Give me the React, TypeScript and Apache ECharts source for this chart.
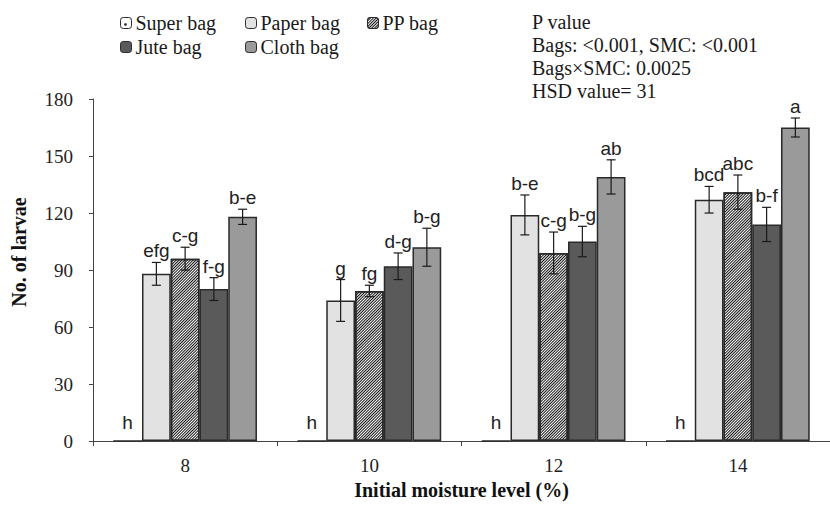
import React, { useEffect, useRef } from 'react';
import * as echarts from 'echarts';

const categories = ['8', '10', '12', '14'];
const bagNames = ['Super bag', 'Paper bag', 'PP bag', 'Jute bag', 'Cloth bag'];

const superBag = [0, 0, 0, 0];
const paperBag = [88, 74, 119, 127];
const ppBag = [96, 79, 99, 131];
const juteBag = [80, 92, 105, 114];
const clothBag = [118, 102, 139, 165];

const superErr = [0, 0, 0, 0];
const paperErr = [6, 11, 10.5, 7];
const ppErr = [6, 3, 11, 9];
const juteErr = [6, 7, 8, 9];
const clothErr = [4, 10, 9, 5];

const superLetters = ['h', 'h', 'h', 'h'];
const paperLetters = ['efg', 'g', 'b-e', 'bcd'];
const ppLetters = ['c-g', 'fg', 'c-g', 'abc'];
const juteLetters = ['f-g', 'd-g', 'b-g', 'b-f'];
const clothLetters = ['b-e', 'b-g', 'ab', 'a'];

const yMin = 0;
const yMax = 180;
const yInterval = 30;

const pValueLines = [
  'P value',
  'Bags: <0.001, SMC: <0.001',
  'Bags\u00d7SMC: 0.0025',
  'HSD value= 31',
];

const xAxisName = 'Initial moisture level (%)';
const yAxisName = 'No. of larvae';

const allValues = [superBag, paperBag, ppBag, juteBag, clothBag];
const allErrs = [superErr, paperErr, ppErr, juteErr, clothErr];
const allLetters = [superLetters, paperLetters, ppLetters, juteLetters, clothLetters];

const SERIF = '"Liberation Serif", "Times New Roman", serif';
const SANS = '"Liberation Sans", Arial, sans-serif';
const BORDER = '#2a2a2a';
const GAP = 0.22;

const fills: any[] = [
  '#ffffff',
  '#e2e2e2',
  '#ffffff',
  '#5a5a5a',
  '#9a9a9a',
];

export default function App() {
  const ref = useRef<HTMLDivElement>(null);
  useEffect(() => {
    if (!ref.current) return;
    document.body.style.margin = '0';
    const chart = echarts.init(ref.current, null, { renderer: 'svg' });

    const barSeries = bagNames.map((name, i) => {
      const itemStyle: any = {
        color: fills[i],
        borderColor: BORDER,
        borderWidth: 1.5,
      };
      if (i === 2) {
        itemStyle.decal = {
          symbol: 'rect',
          symbolSize: 1,
          dashArrayX: [1, 0],
          dashArrayY: [1, 1],
          rotation: -Math.PI / 4,
          color: '#111',
          backgroundColor: '#ffffff',
        };
      }
      return {
        name,
        type: 'bar',
        data: allValues[i],
        barGap: '0%',
        barCategoryGap: GAP * 100 + '%',
        itemStyle,
        emphasis: { disabled: true },
        z: 2,
      };
    });

    const errData: any[] = [];
    for (let b = 0; b < bagNames.length; b++) {
      for (let c = 0; c < categories.length; c++) {
        errData.push([c, b, allValues[b][c], allErrs[b][c]]);
      }
    }

    const errSeries = {
      type: 'custom',
      data: errData,
      encode: { x: 0, y: 2 },
      z: 5,
      silent: true,
      renderItem: (params: any, api: any) => {
        const ci = api.value(0);
        const bi = api.value(1);
        const v = api.value(2);
        const e = api.value(3);
        const bandW = api.size([1, 0])[0];
        const barW = (bandW * (1 - GAP)) / bagNames.length;
        const base = api.coord([ci, v]);
        const x = base[0] + (bi - (bagNames.length - 1) / 2) * barW;
        const top = api.coord([ci, v + e])[1];
        const bot = api.coord([ci, v - e])[1];
        const cap = 4.5;
        const lineStyle = { stroke: '#1a1a1a', lineWidth: 1.2 };
        const children: any[] = [];
        if (e > 0) {
          children.push(
            { type: 'line', shape: { x1: x, y1: top, x2: x, y2: bot }, style: lineStyle },
            { type: 'line', shape: { x1: x - cap, y1: top, x2: x + cap, y2: top }, style: lineStyle },
            { type: 'line', shape: { x1: x - cap, y1: bot, x2: x + cap, y2: bot }, style: lineStyle }
          );
        }
        children.push({
          type: 'text',
          style: {
            text: allLetters[bi][ci],
            x,
            y: e > 0 ? top - 2 : top - 9,
            align: 'center',
            textAlign: 'center',
            verticalAlign: 'bottom',
            textVerticalAlign: 'bottom',
            font: '19px ' + SANS,
            fill: '#222',
          },
        });
        return { type: 'group', children };
      },
    };

    const legendPos = [
      { left: 115, top: 8 },
      { left: 240, top: 8 },
      { left: 362, top: 8 },
      { left: 115, top: 32 },
      { left: 240, top: 32 },
    ];

    const legends = bagNames.map((name, i) => ({
      data: [name],
      left: legendPos[i].left,
      top: legendPos[i].top,
      padding: 5,
      itemWidth: 11,
      itemHeight: 11,
      itemGap: 0,
      selectedMode: false,
      textStyle: { fontFamily: SERIF, fontSize: 20, color: '#1a1a1a', padding: [0, 0, 0, -1] },
      itemStyle: { borderColor: BORDER, borderWidth: 1 },
    }));

    chart.setOption({
      animation: false,
      grid: { left: 93, right: -5, top: 99, bottom: 60, containLabel: false },
      legend: legends,
      xAxis: {
        type: 'category',
        data: categories,
        name: xAxisName,
        nameLocation: 'middle',
        nameGap: 29,
        nameTextStyle: { fontFamily: SERIF, fontSize: 20, fontWeight: 'bold', color: '#111' },
        axisLine: { lineStyle: { color: '#444', width: 1 } },
        axisTick: { show: true, length: 5, lineStyle: { color: '#444' } },
        axisLabel: { fontFamily: SERIF, fontSize: 19, color: '#222', margin: 15 },
        splitLine: { show: false },
      },
      yAxis: {
        type: 'value',
        min: yMin,
        max: yMax,
        interval: yInterval,
        axisLine: { show: true, lineStyle: { color: '#444', width: 1 } },
        axisTick: { show: true, length: 4, lineStyle: { color: '#444' } },
        axisLabel: { fontFamily: SERIF, fontSize: 19, color: '#222', margin: 20 },
        splitLine: { show: false },
      },
      graphic: [
        {
          type: 'text',
          x: 19,
          y: 252,
          rotation: Math.PI / 2,
          style: {
            text: yAxisName,
            align: 'center',
            textAlign: 'center',
            verticalAlign: 'middle',
            textVerticalAlign: 'middle',
            font: 'bold 20px ' + SERIF,
            fill: '#111',
          },
        },
        {
          type: 'text',
          left: 532,
          top: 10,
          style: {
            text: pValueLines.join('\n'),
            font: '20px ' + SERIF,
            lineHeight: 23,
            fill: '#1a1a1a',
          },
        },
        {
          type: 'circle',
          shape: { cx: 125.5, cy: 24.5, r: 1.3 },
          style: { fill: '#222' },
          z: 100,
        },
      ],
      series: [...barSeries, errSeries],
    });

    return () => chart.dispose();
  }, []);

  return <div ref={ref} style={{ width: 830, height: 505 }} />;
}
